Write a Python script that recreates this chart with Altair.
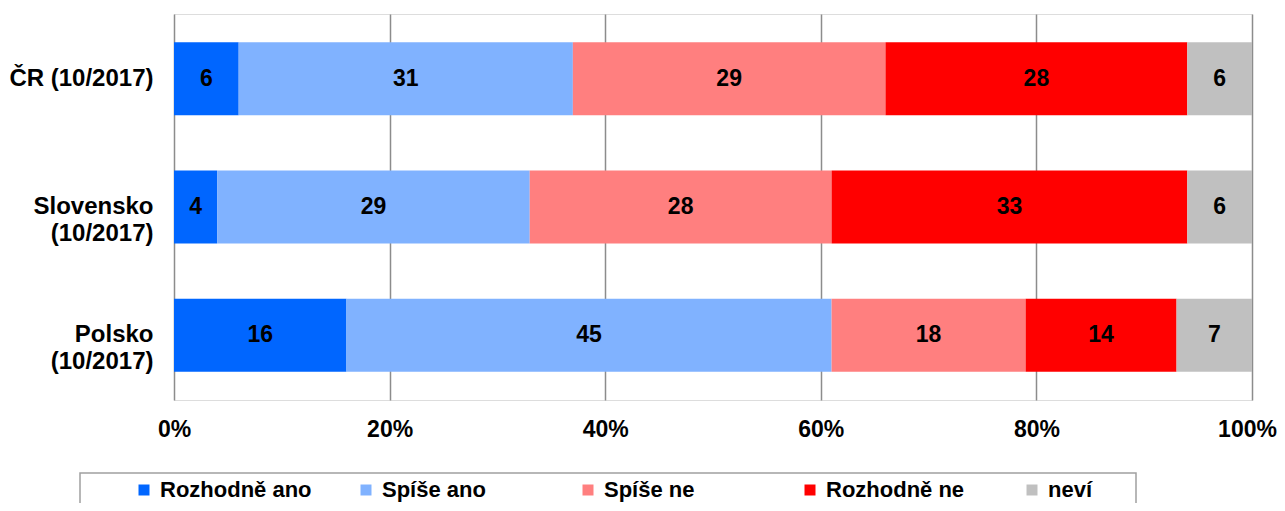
import altair as alt
import pandas as pd

countries = ["ČR (10/2017)", "Slovensko (10/2017)", "Polsko (10/2017)"]
series = ["Rozhodně ano", "Spíše ano", "Spíše ne", "Rozhodně ne", "neví"]
colors = ["#0066FF", "#80B2FF", "#FF7F7F", "#FF0000", "#C0C0C0"]

rozhodne_ano = [6, 4, 16]
spise_ano = [31, 29, 45]
spise_ne = [29, 28, 18]
rozhodne_ne = [28, 33, 14]
nevi = [6, 6, 7]

x_ticks = [0, 20, 40, 60, 80, 100]

values = [rozhodne_ano, spise_ano, spise_ne, rozhodne_ne, nevi]
rows = []
for si, (s, vals) in enumerate(zip(series, values)):
    for c, v in zip(countries, vals):
        rows.append({"country": c, "series": s, "order": si, "value": v})
df = pd.DataFrame(rows)

FONT = "Liberation Sans"

base = alt.Chart(df).transform_stack(
    stack="value",
    groupby=["country"],
    sort=[alt.SortField("order", order="ascending")],
    as_=["x0", "x1"],
).transform_calculate(mid="(datum.x0 + datum.x1) / 2")

y_enc = alt.Y(
    "country:N",
    sort=countries,
    scale=alt.Scale(paddingInner=0.43, paddingOuter=0.22),
    axis=alt.Axis(
        title=None,
        domain=False,
        ticks=False,
        labelFontSize=24,
        labelFontWeight="bold",
        labelColor="#000000",
        labelFont=FONT,
        labelPadding=21,
        labelLimit=400,
        labelLineHeight=27,
        labelExpr="datum.label == 'ČR (10/2017)' ? datum.label : split(datum.label, ' ')",
    ),
)

x_scale = alt.Scale(domain=[0, 100], nice=False, zero=True)

bars = base.mark_bar(strokeWidth=0).encode(
    x=alt.X(
        "x0:Q",
        scale=x_scale,
        axis=alt.Axis(
            title=None,
            values=x_ticks,
            domain=False,
            ticks=False,
            tickSize=0,
            grid=True,
            gridColor="#8C8C8C",
            gridWidth=1.5,
            labelFontSize=23,
            labelFontWeight="bold",
            labelColor="#000000",
            labelFont=FONT,
            labelPadding=18,
            labelFlush=False,
            labelOffset={"condition": {"test": "datum.value === 100", "value": -5}, "value": 0},
            labelExpr="datum.value + '%'",
        ),
    ),
    x2="x1:Q",
    y=y_enc,
    color=alt.Color(
        "series:N",
        sort=series,
        scale=alt.Scale(domain=series, range=colors),
        legend=alt.Legend(
            title=None,
            orient="none",
            direction="horizontal",
            columns=5,
            legendX=-41,
            legendY=465,
            gridAlign="all",
            columnPadding=43,
            symbolType="square",
            symbolSize=121,
            symbolStrokeWidth=0,
            labelOffset=5,
            labelFontSize=22,
            labelFontWeight="bold",
            labelFont=FONT,
            labelColor="#000000",
            labelLimit=400,
            padding=0,
        ),
    ),
)

labels = base.mark_text(
    fontSize=23, fontWeight="bold", font=FONT, color="#000000", baseline="middle", align="center"
).encode(
    x=alt.X("mid:Q", scale=x_scale),
    y=alt.Y("country:N", sort=countries),
    text=alt.Text("value:Q"),
)

frame = alt.Chart(pd.DataFrame({"a": [0]})).mark_rect(
    fill=None, stroke="#A0A0A0", strokeWidth=1.5
).encode(
    x=alt.value(-94), x2=alt.value(962), y=alt.value(459), y2=alt.value(560)
)

chart = alt.layer(bars, labels, frame).properties(
    width=1078,
    height=386,
    autosize=alt.AutoSizeParams(type="none"),
    padding={"left": 166, "top": 6, "right": 25, "bottom": 103},
).configure_view(stroke=None).configure(font=FONT).configure_legend(
    labelFontWeight="bold", labelFontSize=22, labelColor="#000000"
)

chart.save("out.html", embed_options={"renderer": "svg", "actions": False})
